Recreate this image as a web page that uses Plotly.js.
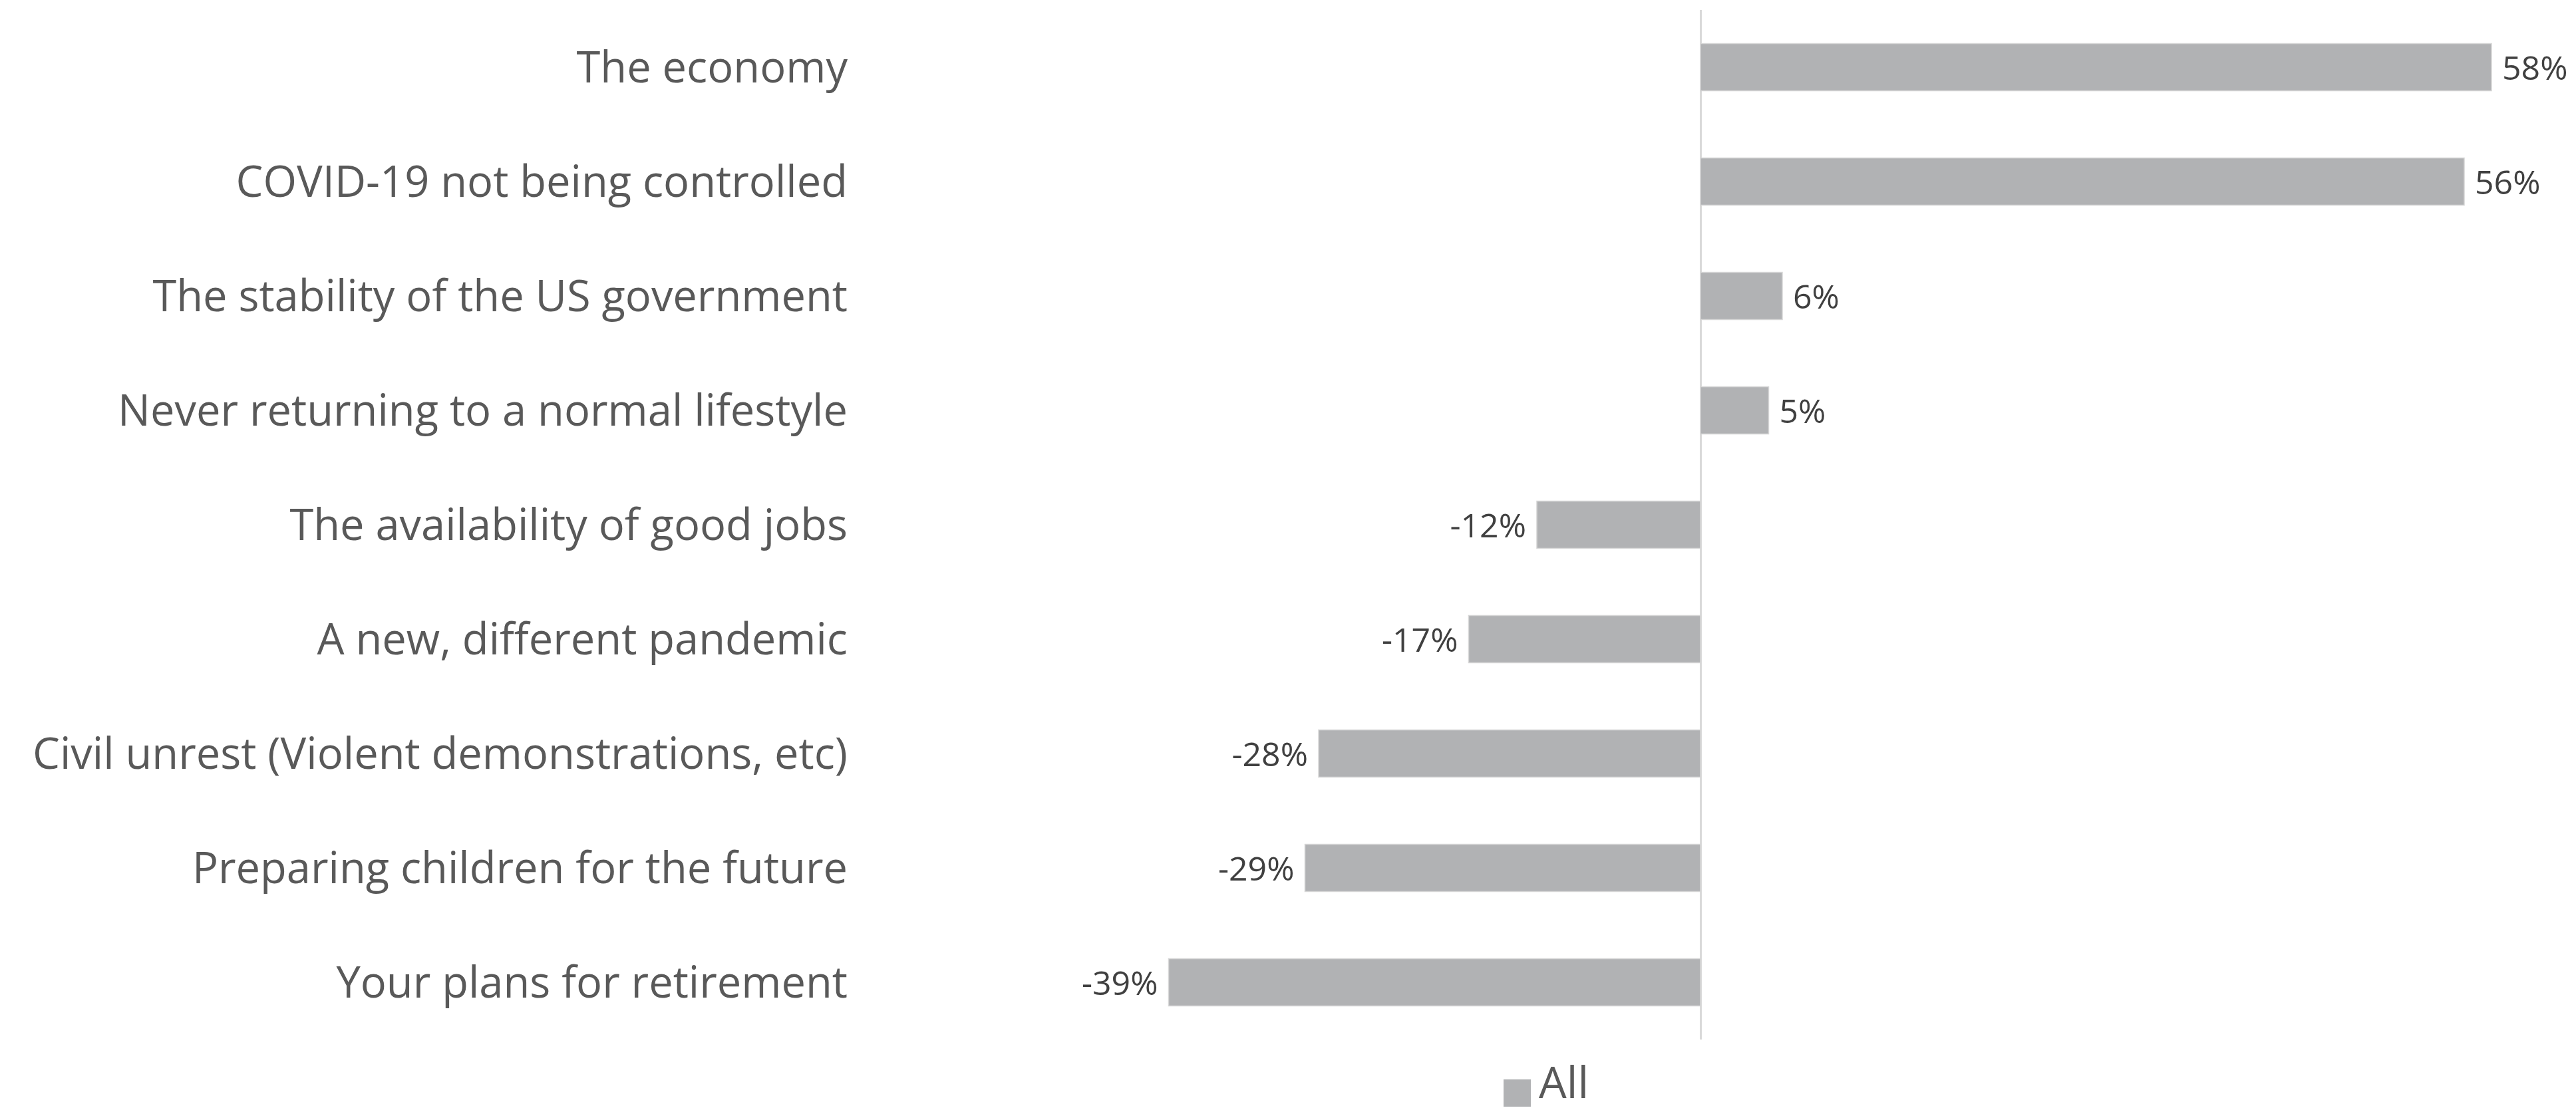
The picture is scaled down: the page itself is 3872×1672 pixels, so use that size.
<!DOCTYPE html>
<html>
<head>
<meta charset="utf-8">
<script src="https://cdn.plot.ly/plotly-3.0.1.min.js"></script>
<style>
  html, body { margin: 0; padding: 0; background: #ffffff; }
  #chart { width: 3872px; height: 1672px; }
</style>
</head>
<body>
<div id="chart"></div>
<script>
// ---- data ----
const categories = [
  "The economy",
  "COVID-19 not being controlled",
  "The stability of the US government",
  "Never returning to a normal lifestyle",
  "The availability of good jobs",
  "A new, different pandemic",
  "Civil unrest (Violent demonstrations, etc)",
  "Preparing children for the future",
  "Your plans for retirement"
];
const values = [58, 56, 6, 5, -12, -17, -28, -29, -39];
const seriesName = "All";

// ---- styling / layout ----
const W = 3872, H = 1672;
const M = { l: 1290, r: 52, t: 15, b: 109 };
const FONT = "'Open Sans', Lato, sans-serif";
const NB = "\u00a0";
const textLabels = values.map(v => v >= 0 ? NB + v + "%" : v + "%" + NB);

const plotW = W - M.l - M.r, plotH = H - M.t - M.b;
const px2paperX = px => (px - M.l) / plotW;
const px2paperY = py => (H - M.b - py) / plotH;

const trace = {
  type: "bar",
  orientation: "h",
  name: seriesName,
  y: categories,
  x: values,
  text: textLabels,
  textposition: "outside",
  cliponaxis: false,
  textfont: { family: FONT, size: 50, color: "#404040" },
  marker: { color: "#b1b2b4", line: { color: "#d6d6d6", width: 1.5 } },
  showlegend: false,
  hoverinfo: "skip"
};

const layout = {
  width: W, height: H,
  margin: M,
  paper_bgcolor: "#ffffff",
  plot_bgcolor: "#ffffff",
  bargap: 0.587,
  showlegend: false,
  xaxis: {
    range: [-(2556 - M.l) / 20.5, (W - M.r - 2556) / 20.5],
    showgrid: false,
    zeroline: true,
    zerolinecolor: "#d9d9d9",
    zerolinewidth: 3,
    showticklabels: false,
    ticks: "",
    showline: false,
    fixedrange: true
  },
  yaxis: {
    type: "category",
    autorange: "reversed",
    showgrid: false,
    zeroline: false,
    showline: false,
    ticks: "",
    ticklabelstandoff: 15,
    tickfont: { family: FONT, size: 65, color: "#595959" },
    fixedrange: true
  },
  shapes: [{
    type: "rect", xref: "paper", yref: "paper",
    x0: px2paperX(2260), x1: px2paperX(2301),
    y0: px2paperY(1664), y1: px2paperY(1623),
    fillcolor: "#b1b2b4", line: { width: 0 }
  }],
  annotations: [{
    xref: "paper", yref: "paper",
    x: px2paperX(2312), y: px2paperY(1671),
    xanchor: "left", yanchor: "bottom",
    text: seriesName, showarrow: false,
    borderpad: 0,
    font: { family: FONT, size: 66, color: "#595959" }
  }]
};

Plotly.newPlot("chart", [trace], layout, { displayModeBar: false, staticPlot: true });
</script>
</body>
</html>
